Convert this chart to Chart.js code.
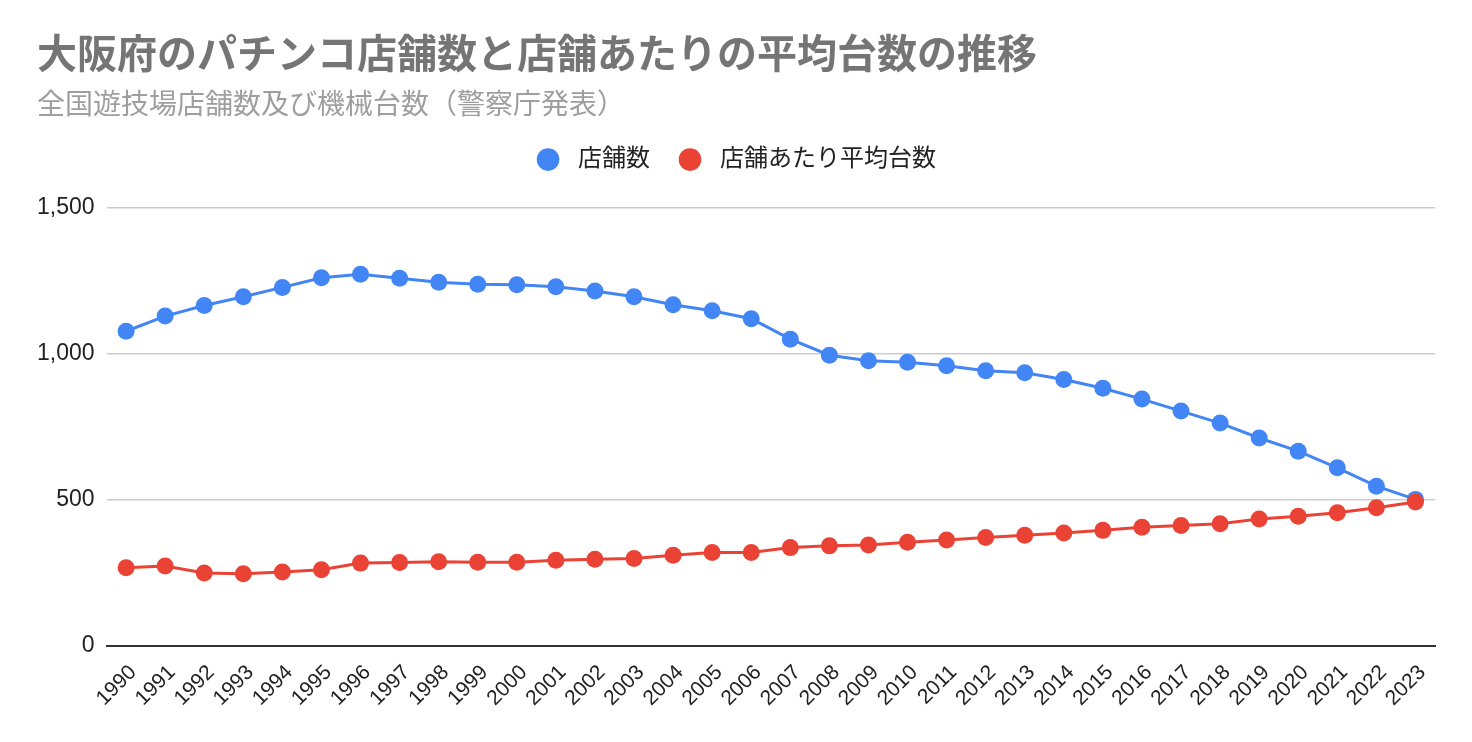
<!DOCTYPE html>
<html>
<head>
<meta charset="utf-8">
<script src="https://cdn.jsdelivr.net/npm/chart.js@4/dist/chart.umd.min.js"></script>
<style>
  html, body { margin: 0; padding: 0; background: #fff; }
  #wrap { width: 1472px; height: 742px; }
</style>
</head>
<body>
<div id="wrap"><canvas id="pachinkoChart"></canvas></div>
<script>
'use strict';

// years on the x axis
var years = ['1990','1991','1992','1993','1994','1995','1996','1997','1998','1999',
             '2000','2001','2002','2003','2004','2005','2006','2007','2008','2009',
             '2010','2011','2012','2013','2014','2015','2016','2017','2018','2019',
             '2020','2021','2022','2023'];

// 店舗数 (number of halls)
var storeCounts = [1077, 1129, 1165, 1195, 1227, 1260, 1272, 1258, 1245, 1238,
                   1236, 1229, 1215, 1195, 1168, 1147, 1120, 1050, 995, 976,
                   971, 959, 942, 935, 912, 882, 845, 804, 763, 712,
                   667, 610, 547, 502];

// 店舗あたり平均台数 (machines per hall)
var machinesPerStore = [268, 274, 250, 248, 254, 261, 284, 286, 289, 287,
                        287, 294, 297, 300, 311, 320, 320, 337, 343, 346,
                        355, 363, 372, 379, 387, 396, 407, 413, 419, 435,
                        444, 456, 473, 493];

var yTicks = [0, 500, 1000, 1500];

var seriesNames = ['店舗数', '店舗あたり平均台数'];
var blue = '#4285F4';
var red = '#EA4335';
var jpFont = "Roboto, 'Noto Sans CJK JP', sans-serif";
var numFont = "'Liberation Sans', Arial, sans-serif";

// push the plot down a bit below the legend
var legendGap = {
    id: 'legendGap',
    beforeInit: function (chart) {
        var fit = chart.legend.fit;
        chart.legend.fit = function () {
            fit.bind(chart.legend)();
            this.height += 26;
        };
    }
};

function lineSet(label, data, color, order) {
    return {
        label: label,
        data: data,
        borderColor: color,
        backgroundColor: color,
        borderWidth: 3,
        pointRadius: 8.5,
        pointHoverRadius: 8.5,
        pointBorderWidth: 0,
        pointBackgroundColor: color,
        tension: 0,
        order: order
    };
}

var ctx = document.getElementById('pachinkoChart').getContext('2d');
var myChart = new Chart(ctx, {
    type: 'line',
    data: {
        labels: years,
        datasets: [
            lineSet(seriesNames[0], storeCounts, blue, 2),
            lineSet(seriesNames[1], machinesPerStore, red, 1)
        ]
    },
    options: {
        responsive: true,
        maintainAspectRatio: false,
        animation: false,
        layout: { padding: { left: 37, right: 37, top: 0, bottom: 17 } },
        plugins: {
            title: {
                display: true,
                text: '大阪府のパチンコ店舗数と店舗あたりの平均台数の推移',
                align: 'start',
                color: '#757575',
                font: { family: jpFont, size: 40, weight: 'bold' },
                padding: { top: 34, bottom: 8 }
            },
            subtitle: {
                display: true,
                text: '全国遊技場店舗数及び機械台数（警察庁発表）',
                align: 'start',
                color: '#9e9e9e',
                font: { family: jpFont, size: 28 },
                padding: { top: 0, bottom: -4 }
            },
            legend: {
                display: true,
                position: 'top',
                labels: {
                    usePointStyle: true,
                    pointStyle: 'circle',
                    boxWidth: 24,
                    boxHeight: 16,
                    padding: 28,
                    color: '#222',
                    font: { family: jpFont, size: 24 },
                    sort: function (a, b) { return a.datasetIndex - b.datasetIndex; },
                    generateLabels: function (chart) {
                        var items = Chart.defaults.plugins.legend.labels.generateLabels(chart);
                        items.forEach(function (it) { it.text = ' ' + it.text; });
                        return items;
                    }
                }
            },
            tooltip: { enabled: false }
        },
        scales: {
            x: {
                offset: true,
                grid: { display: false, drawTicks: false },
                border: { display: true, color: '#333', width: 2 },
                ticks: {
                    autoSkip: false,
                    maxRotation: 45,
                    minRotation: 45,
                    padding: 14,
                    labelOffset: 7,
                    color: '#222',
                    font: { family: numFont, size: 21 }
                },
                afterFit: function (scale) {
                    // rotated labels should not widen the side margins
                    scale.paddingLeft = 0;
                    scale.paddingRight = 0;
                }
            },
            y: {
                min: 0,
                max: 1500,
                afterBuildTicks: function (axis) {
                    axis.ticks = yTicks.map(function (v) { return { value: v }; });
                },
                afterFit: function (scale) {
                    // padding is only wanted between labels and plot
                    scale.width -= scale.options.ticks.padding;
                },
                grid: { color: '#cccccc', lineWidth: 1.5, drawTicks: false },
                border: { display: false },
                ticks: {
                    padding: 12,
                    color: '#222',
                    font: { family: numFont, size: 23 },
                    callback: function (v) { return v.toLocaleString('en-US'); }
                }
            }
        }
    },
    plugins: [legendGap]
});
</script>
</body>
</html>
